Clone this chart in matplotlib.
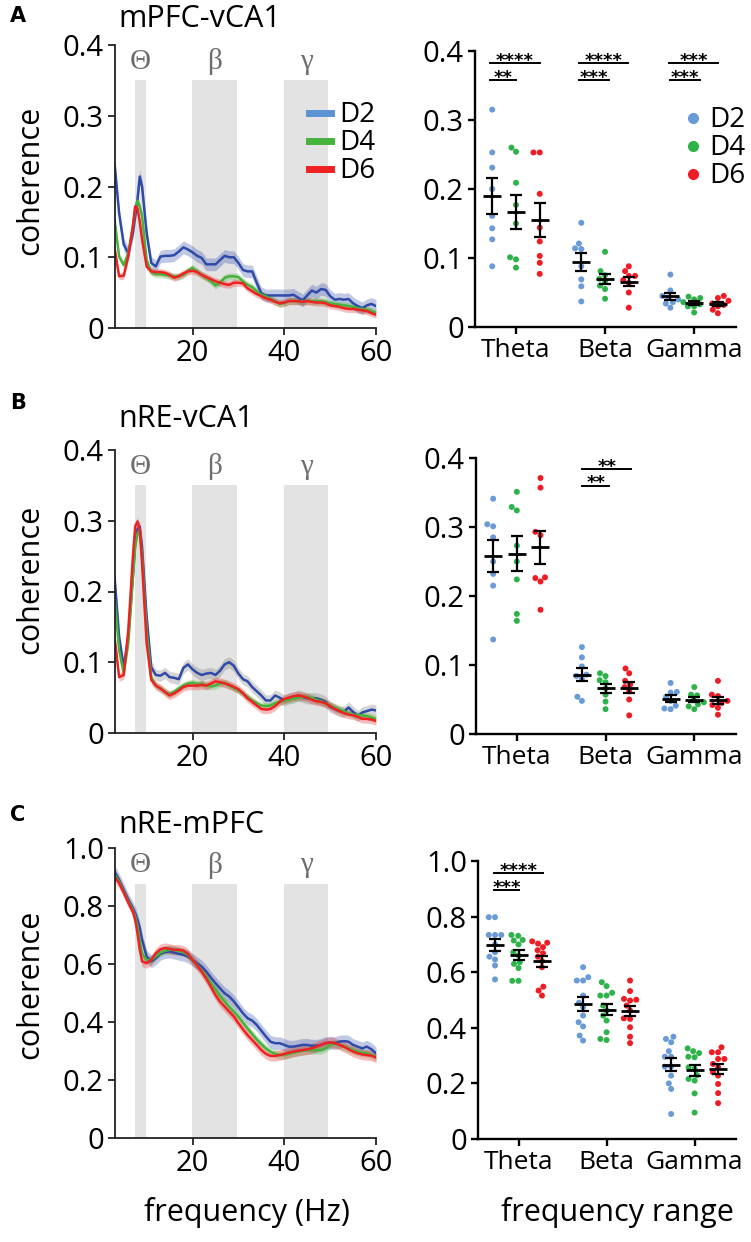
import numpy as np
import pandas as pd
import matplotlib
matplotlib.use("Agg")
from matplotlib import pyplot as plt
from matplotlib.lines import Line2D
import seaborn as sns

plt.rcParams["font.family"] = ["Open Sans", "DejaVu Sans"]

# ---------------- data ----------------
days = ["D2", "D4", "D6"]
bands = ["Theta", "Beta", "Gamma"]
band_ranges = [(7.4, 9.8), (19.8, 29.8), (40, 49.6)]
band_symbols = ["\u0398", "\u03b2", "\u03b3"]

freq = [3, 4, 5, 6, 7, 7.5, 8, 8.5, 9] + list(range(10, 61))

# mPFC-vCA1 coherence spectra
a_d2 = [0.233, 0.162, 0.118, 0.106, 0.134, 0.158, 0.182, 0.214, 0.200, 0.134, 0.092, 0.087, 0.101, 0.102, 0.102,
        0.103, 0.108, 0.114, 0.111, 0.107, 0.102, 0.099, 0.090, 0.090, 0.090, 0.096, 0.102, 0.100, 0.100, 0.092,
        0.082, 0.080, 0.080, 0.064, 0.049, 0.046, 0.046, 0.046, 0.046, 0.046, 0.046, 0.047, 0.043, 0.039, 0.046,
        0.053, 0.050, 0.055, 0.054, 0.045, 0.040, 0.041, 0.040, 0.041, 0.035, 0.031, 0.028, 0.032, 0.034, 0.031]
a_d4 = [0.153, 0.101, 0.089, 0.106, 0.144, 0.170, 0.180, 0.172, 0.158, 0.096, 0.079, 0.076, 0.076, 0.075, 0.074,
        0.073, 0.073, 0.075, 0.081, 0.085, 0.080, 0.075, 0.071, 0.066, 0.060, 0.064, 0.071, 0.073, 0.073, 0.072,
        0.066, 0.061, 0.058, 0.052, 0.047, 0.045, 0.041, 0.038, 0.034, 0.035, 0.038, 0.038, 0.038, 0.038, 0.038,
        0.038, 0.038, 0.038, 0.037, 0.035, 0.034, 0.033, 0.032, 0.031, 0.030, 0.028, 0.027, 0.026, 0.024, 0.021]
a_d6 = [0.113, 0.073, 0.074, 0.101, 0.144, 0.172, 0.169, 0.150, 0.125, 0.087, 0.080, 0.079, 0.079, 0.078, 0.075,
        0.071, 0.073, 0.077, 0.080, 0.081, 0.079, 0.075, 0.072, 0.069, 0.066, 0.064, 0.062, 0.061, 0.064, 0.064,
        0.063, 0.056, 0.052, 0.048, 0.045, 0.042, 0.040, 0.037, 0.035, 0.036, 0.038, 0.038, 0.038, 0.037, 0.038,
        0.037, 0.036, 0.036, 0.035, 0.032, 0.031, 0.030, 0.028, 0.027, 0.027, 0.026, 0.025, 0.024, 0.021, 0.019]

# nRE-vCA1 coherence spectra
b_d2 = [0.221, 0.136, 0.093, 0.136, 0.221, 0.268, 0.288, 0.292, 0.263, 0.164, 0.093, 0.082, 0.081, 0.085, 0.079,
        0.078, 0.076, 0.092, 0.097, 0.090, 0.085, 0.082, 0.084, 0.085, 0.082, 0.088, 0.097, 0.100, 0.095, 0.084,
        0.076, 0.073, 0.065, 0.059, 0.053, 0.046, 0.046, 0.053, 0.050, 0.046, 0.049, 0.050, 0.053, 0.051, 0.049,
        0.049, 0.049, 0.047, 0.044, 0.037, 0.034, 0.031, 0.030, 0.036, 0.030, 0.024, 0.029, 0.031, 0.033, 0.032]
b_d4 = [0.193, 0.117, 0.084, 0.127, 0.221, 0.263, 0.282, 0.287, 0.249, 0.145, 0.079, 0.067, 0.063, 0.058, 0.055,
        0.058, 0.063, 0.067, 0.070, 0.071, 0.069, 0.070, 0.067, 0.066, 0.067, 0.070, 0.071, 0.067, 0.064, 0.060,
        0.056, 0.051, 0.046, 0.042, 0.039, 0.038, 0.039, 0.042, 0.044, 0.046, 0.047, 0.049, 0.050, 0.051, 0.051,
        0.050, 0.047, 0.045, 0.042, 0.039, 0.036, 0.033, 0.031, 0.028, 0.026, 0.025, 0.025, 0.024, 0.022, 0.020]
b_d6 = [0.136, 0.079, 0.082, 0.145, 0.249, 0.292, 0.299, 0.287, 0.240, 0.127, 0.075, 0.067, 0.063, 0.058, 0.053,
        0.056, 0.060, 0.065, 0.067, 0.067, 0.067, 0.068, 0.067, 0.070, 0.073, 0.072, 0.070, 0.068, 0.065, 0.062,
        0.056, 0.049, 0.044, 0.039, 0.034, 0.033, 0.034, 0.038, 0.044, 0.048, 0.050, 0.052, 0.053, 0.052, 0.050,
        0.047, 0.045, 0.044, 0.042, 0.038, 0.034, 0.031, 0.028, 0.026, 0.025, 0.023, 0.020, 0.020, 0.019, 0.017]

# nRE-mPFC coherence spectra
c_d2 = [0.919, 0.890, 0.856, 0.822, 0.793, 0.775, 0.752, 0.724, 0.683, 0.626, 0.609, 0.620, 0.635, 0.641, 0.643,
        0.639, 0.635, 0.632, 0.626, 0.614, 0.603, 0.591, 0.574, 0.553, 0.534, 0.516, 0.499, 0.488, 0.471, 0.451,
        0.430, 0.413, 0.405, 0.390, 0.370, 0.350, 0.332, 0.327, 0.327, 0.321, 0.315, 0.315, 0.318, 0.321, 0.321,
        0.318, 0.318, 0.321, 0.327, 0.329, 0.327, 0.332, 0.334, 0.332, 0.321, 0.315, 0.309, 0.315, 0.306, 0.292]
c_d4 = [0.908, 0.885, 0.850, 0.816, 0.787, 0.764, 0.729, 0.678, 0.637, 0.614, 0.614, 0.626, 0.639, 0.646, 0.649,
        0.649, 0.645, 0.641, 0.632, 0.614, 0.597, 0.577, 0.557, 0.534, 0.513, 0.490, 0.471, 0.453, 0.436, 0.419,
        0.398, 0.378, 0.359, 0.340, 0.324, 0.309, 0.298, 0.290, 0.286, 0.286, 0.290, 0.294, 0.298, 0.301, 0.303,
        0.303, 0.303, 0.303, 0.309, 0.321, 0.327, 0.321, 0.315, 0.309, 0.303, 0.298, 0.294, 0.292, 0.286, 0.280]
c_d6 = [0.902, 0.879, 0.847, 0.812, 0.781, 0.752, 0.706, 0.649, 0.609, 0.603, 0.614, 0.637, 0.651, 0.655, 0.652,
        0.649, 0.649, 0.646, 0.635, 0.614, 0.595, 0.574, 0.549, 0.522, 0.493, 0.470, 0.453, 0.436, 0.419, 0.396,
        0.375, 0.355, 0.338, 0.321, 0.303, 0.290, 0.283, 0.283, 0.286, 0.290, 0.294, 0.298, 0.301, 0.303, 0.306,
        0.309, 0.315, 0.321, 0.327, 0.330, 0.327, 0.321, 0.315, 0.306, 0.298, 0.292, 0.288, 0.286, 0.284, 0.278]

# rough SEM band half-widths per day
a_sem = [0.009, 0.005, 0.005]
b_sem = [0.008, 0.005, 0.006]
c_sem = [0.022, 0.014, 0.018]

# per-animal band coherence (Theta, Beta, Gamma) per day
a_pts_d2 = [[0.315, 0.253, 0.231, 0.200, 0.161, 0.143, 0.127, 0.088],
            [0.151, 0.121, 0.114, 0.113, 0.088, 0.069, 0.059, 0.037],
            [0.076, 0.053, 0.045, 0.042, 0.040, 0.036, 0.034, 0.028]]
a_pts_d4 = [[0.260, 0.254, 0.209, 0.177, 0.150, 0.101, 0.098, 0.086],
            [0.109, 0.081, 0.075, 0.070, 0.066, 0.060, 0.055, 0.041],
            [0.044, 0.042, 0.040, 0.036, 0.033, 0.030, 0.030, 0.021]]
a_pts_d6 = [[0.253, 0.253, 0.193, 0.144, 0.124, 0.103, 0.093, 0.077],
            [0.088, 0.081, 0.074, 0.074, 0.068, 0.064, 0.050, 0.028],
            [0.045, 0.042, 0.038, 0.034, 0.032, 0.030, 0.025, 0.020]]

b_pts_d2 = [[0.341, 0.304, 0.301, 0.285, 0.250, 0.232, 0.215, 0.137],
            [0.126, 0.111, 0.098, 0.086, 0.084, 0.080, 0.054, 0.048],
            [0.074, 0.061, 0.060, 0.054, 0.048, 0.041, 0.037, 0.036]]
b_pts_d4 = [[0.351, 0.329, 0.324, 0.273, 0.250, 0.224, 0.174, 0.164],
            [0.088, 0.084, 0.078, 0.075, 0.066, 0.057, 0.047, 0.036],
            [0.068, 0.057, 0.056, 0.049, 0.046, 0.043, 0.040, 0.036]]
b_pts_d6 = [[0.371, 0.357, 0.293, 0.288, 0.227, 0.226, 0.221, 0.180],
            [0.095, 0.088, 0.077, 0.072, 0.068, 0.062, 0.050, 0.027],
            [0.077, 0.057, 0.055, 0.048, 0.045, 0.042, 0.038, 0.028]]

c_pts_d2 = [[0.798, 0.798, 0.734, 0.734, 0.734, 0.700, 0.672, 0.656, 0.646, 0.624, 0.574],
            [0.618, 0.582, 0.570, 0.570, 0.516, 0.490, 0.474, 0.444, 0.420, 0.405, 0.372, 0.354],
            [0.368, 0.360, 0.348, 0.316, 0.296, 0.296, 0.260, 0.260, 0.228, 0.200, 0.180, 0.090]]
c_pts_d4 = [[0.734, 0.731, 0.716, 0.714, 0.700, 0.672, 0.660, 0.636, 0.630, 0.615, 0.569, 0.569],
            [0.564, 0.550, 0.526, 0.516, 0.516, 0.480, 0.462, 0.444, 0.426, 0.384, 0.360, 0.356],
            [0.326, 0.316, 0.309, 0.296, 0.294, 0.258, 0.252, 0.230, 0.216, 0.210, 0.164, 0.095]]
c_pts_d6 = [[0.711, 0.706, 0.703, 0.690, 0.679, 0.668, 0.656, 0.640, 0.618, 0.548, 0.534, 0.516],
            [0.570, 0.532, 0.504, 0.501, 0.498, 0.480, 0.462, 0.434, 0.432, 0.402, 0.368, 0.345],
            [0.330, 0.312, 0.312, 0.288, 0.288, 0.270, 0.258, 0.240, 0.228, 0.198, 0.165, 0.129]]

# significance brackets: (band index, y, start offset, end offset, label)
a_sig = [(0, 0.383, -0.29, 0.27, "****"), (0, 0.358, -0.29, 0.0, "**"),
         (1, 0.383, -0.29, 0.26, "****"), (1, 0.358, -0.29, 0.04, "***"),
         (2, 0.383, -0.28, 0.27, "***"), (2, 0.358, -0.27, 0.07, "***")]
b_sig = [(1, 0.384, -0.26, 0.29, "**"), (1, 0.360, -0.26, 0.04, "**")]
c_sig = [(0, 0.957, -0.28, 0.28, "****"), (0, 0.894, -0.28, 0.01, "***")]

# ---------------- style ----------------
line_colors = ["#2f4aa8", "#46b33c", "#ee2222"]
legend_line_colors = ["#5b93d3", "#46b33c", "#ee2222"]
dot_colors = ["#6a9ad8", "#2db34a", "#ee1c24"]
shade = "#e3e3e3"
W, H = 751, 1242


def pos(l, r, t, b):
    return [l / W, 1 - b / H, (r - l) / W, (b - t) / H]


fig = plt.figure(figsize=(W / 100, H / 100), dpi=100)


def spectrum(ax, series, sems, band_cols, ymax, yticks, ylabels):
    shade_top = 0.875 * ymax
    for lo, hi in band_ranges:
        ax.fill_between([lo, hi], 0, shade_top, color=shade, lw=0, zorder=0)
    for (lo, hi), sym in zip(band_ranges, band_symbols):
        ax.text((lo + hi) / 2, 0.94 * ymax, sym, ha="center", va="center", color="#6e6e6e",
                fontsize=21, family=["Liberation Serif", "DejaVu Serif"])
    for s, sem, lc, bc in zip(series, sems, line_colors, band_cols):
        s = np.array(s)
        ax.fill_between(freq, s - sem, s + sem, color=bc, alpha=0.3, lw=0, zorder=1)
        ax.plot(freq, s, color=lc, lw=1.8, zorder=2)
    ax.set_xlim(3.1, 59.4)
    ax.set_ylim(0, ymax)
    ax.set_xticks([20, 40, 60])
    ax.set_xticklabels(["20", "40", "60"], fontsize=21)
    ax.set_yticks(yticks)
    ax.set_yticklabels(ylabels, fontsize=21)
    for sp in ["top", "right"]:
        ax.spines[sp].set_visible(False)
    for sp in ["left", "bottom"]:
        ax.spines[sp].set_linewidth(1.3)
        ax.spines[sp].set_color("#222222")
    ax.tick_params(length=5, width=1.3, color="#222222", pad=3)


def scatter_panel(ax, pts, sig, ymax, yticks, ylabels):
    rows = []
    for d, day_pts in zip(days, pts):
        for b, vals in zip(bands, day_pts):
            for v in vals:
                rows.append({"band": b, "day": d, "value": v})
    df = pd.DataFrame(rows)
    sns.swarmplot(data=df, x="band", y="value", hue="day", order=bands, hue_order=days,
                  palette=dot_colors, dodge=True, size=4.3, linewidth=0, ax=ax, legend=False, zorder=2)
    offsets = [-0.8 / 3, 0, 0.8 / 3]
    for di, day_pts in enumerate(pts):
        for bi, vals in enumerate(day_pts):
            vals = np.array(vals)
            m = vals.mean()
            se = vals.std(ddof=1) / np.sqrt(len(vals))
            x = bi + offsets[di]
            ax.errorbar(x, m, yerr=se, color="black", lw=1.6, capsize=4, capthick=1.6, zorder=4)
            ax.plot([x], [m], marker="_", markersize=13, mew=2, color="black", zorder=4)
    for bi, y, x0, x1, lab in sig:
        ax.plot([bi + x0, bi + x1], [y, y], color="black", lw=1.4, clip_on=False)
        ax.annotate(lab, ((2 * bi + x0 + x1) / 2, y), xytext=(0, -2), textcoords="offset points",
                    ha="center", va="baseline", fontsize=13, weight="bold", family="DejaVu Sans",
                    annotation_clip=False)
    ax.set_xlim(-0.46, 2.47)
    ax.set_ylim(0, ymax)
    ax.set_xticks([0, 1, 2])
    ax.set_xticklabels(bands, fontsize=19)
    ax.set_xlabel("")
    ax.set_ylabel("")
    ax.set_yticks(yticks)
    ax.set_yticklabels(ylabels, fontsize=21)
    for sp in ["top", "right"]:
        ax.spines[sp].set_visible(False)
    for sp in ["left", "bottom"]:
        ax.spines[sp].set_linewidth(1.7)
    ax.tick_params(length=5, width=1.7, pad=3)


# panel layout in pixels (left, right, top, bottom)
left_boxes = [(115, 376, 45, 328), (115, 376, 450, 733), (115, 376, 848, 1138)]
right_boxes = [(475, 736, 51, 327), (476, 736, 458, 734), (478, 736, 861, 1139)]
titles = ["mPFC-vCA1", "nRE-vCA1", "nRE-mPFC"]
letters = ["A", "B", "C"]
title_y = [27, 427, 833]
letter_y = [16, 403, 815]
ylabel_y = [180, 579, 984]

small_ticks = [0, 0.1, 0.2, 0.3, 0.4]
small_labels = ["0", "0.1", "0.2", "0.3", "0.4"]
big_ticks = [0, 0.2, 0.4, 0.6, 0.8, 1.0]
big_labels = ["0", "0.2", "0.4", "0.6", "0.8", "1.0"]

spectra = [(a_d2, a_d4, a_d6), (b_d2, b_d4, b_d6), (c_d2, c_d4, c_d6)]
sems = [a_sem, b_sem, c_sem]
band_cols = [line_colors, ["#777777", line_colors[1], line_colors[2]], line_colors]
points = [(a_pts_d2, a_pts_d4, a_pts_d6), (b_pts_d2, b_pts_d4, b_pts_d6), (c_pts_d2, c_pts_d4, c_pts_d6)]
sigs = [a_sig, b_sig, c_sig]
ymaxes = [0.4, 0.4, 1.0]

for i in range(3):
    ticks, labels = (small_ticks, small_labels) if ymaxes[i] < 1 else (big_ticks, big_labels)
    axl = fig.add_axes(pos(*left_boxes[i]))
    spectrum(axl, spectra[i], sems[i], band_cols[i], ymaxes[i], ticks, labels)
    axr = fig.add_axes(pos(*right_boxes[i]))
    scatter_panel(axr, points[i], sigs[i], ymaxes[i], ticks, labels)

    fig.text(10 / W, 1 - letter_y[i] / H, letters[i], fontsize=15, weight="bold", va="center", family="DejaVu Sans")
    fig.text(118 / W, 1 - title_y[i] / H, titles[i], fontsize=22, va="baseline")
    fig.text(30 / W, 1 - ylabel_y[i] / H, "coherence", fontsize=22, rotation=90, ha="center", va="center")

    if i == 0:
        h = [Line2D([], [], color=c, lw=5) for c in legend_line_colors]
        axl.legend(h, days, loc="upper right", bbox_to_anchor=(1.04, 0.84), frameon=False, fontsize=20,
                   handlelength=0.8, handletextpad=0.3, labelspacing=0.0, borderaxespad=0)
        h = [Line2D([], [], color=c, lw=0, marker="o", markersize=7) for c in dot_colors]
        axr.legend(h, days, loc="upper right", bbox_to_anchor=(1.08, 0.84), frameon=False, fontsize=20,
                   handlelength=0.6, handletextpad=0.3, labelspacing=0.0, borderaxespad=0)

fig.text(247 / W, 1 - 1213 / H, "frequency (Hz)", fontsize=22, ha="center", va="center")
fig.text(617 / W, 1 - 1213 / H, "frequency range", fontsize=22, ha="center", va="center")

fig.savefig("out.png", dpi=100)
